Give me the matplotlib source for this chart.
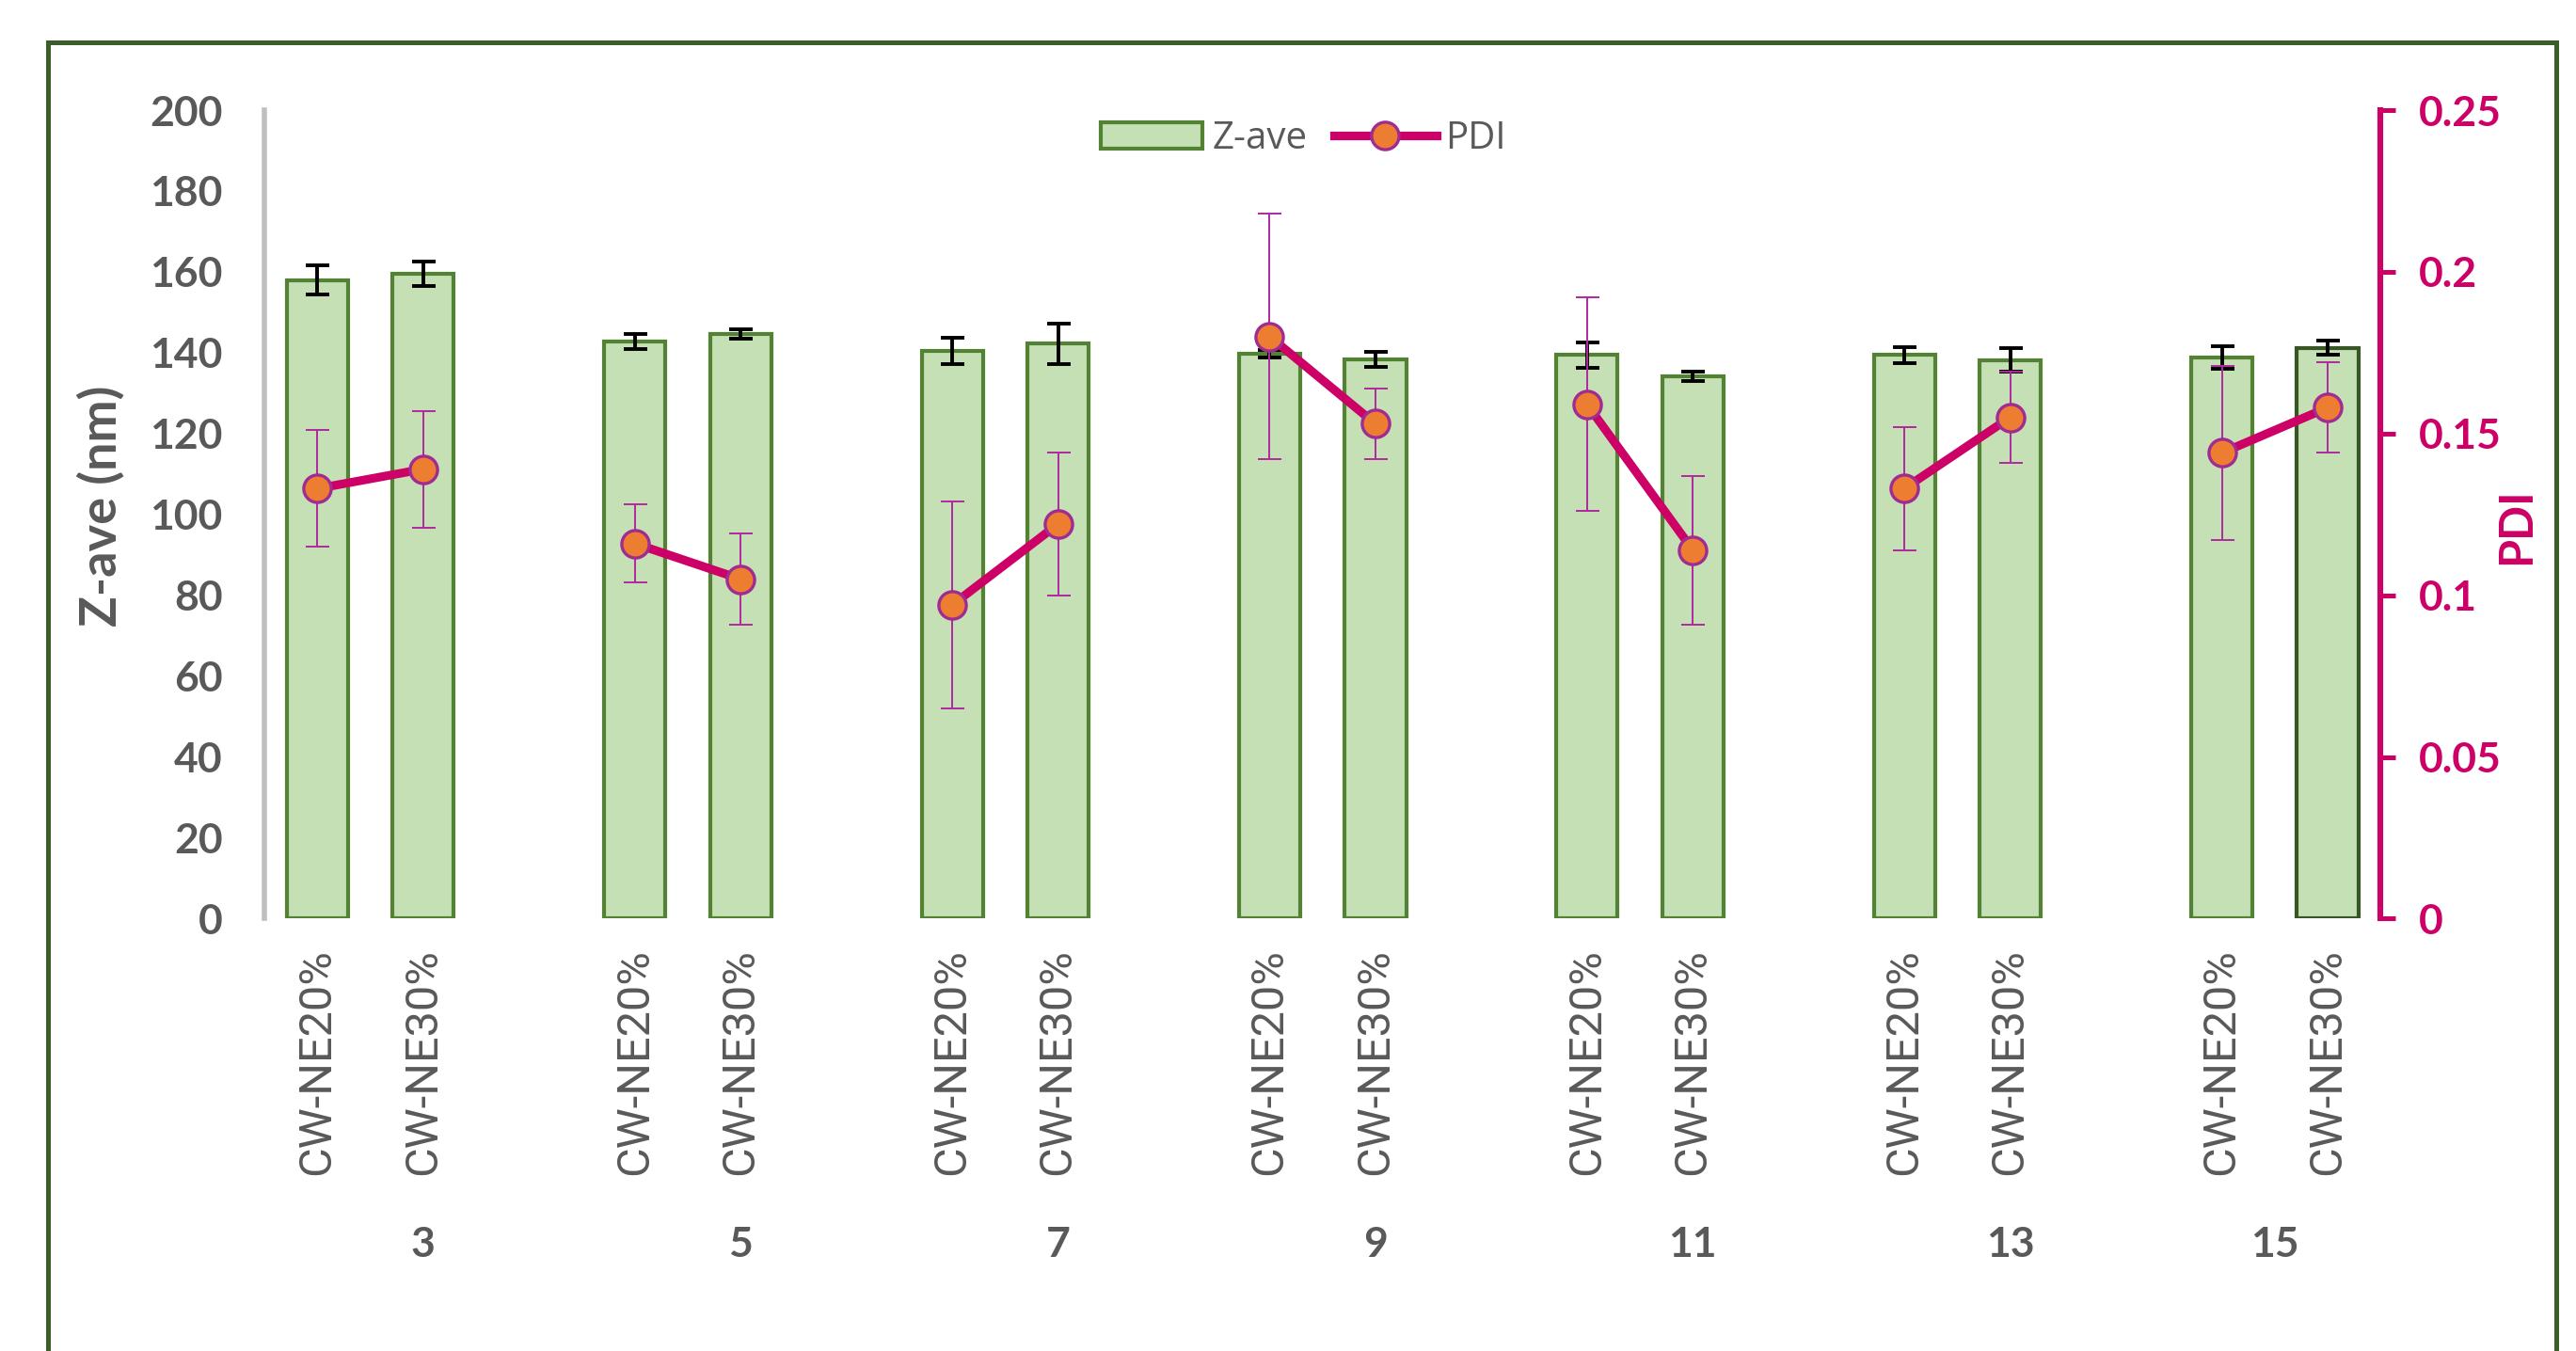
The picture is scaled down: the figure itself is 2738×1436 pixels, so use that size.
import numpy as np
import matplotlib
matplotlib.use("Agg")
import matplotlib.pyplot as plt
from matplotlib.patches import Rectangle, Patch
from matplotlib.lines import Line2D
from matplotlib.transforms import blended_transform_factory

plt.rcParams['font.family'] = ['Lato', 'DejaVu Sans']

# ---- data ----
groups = ['3', '5', '7', '9', '11', '13', '15']
samples = ['CW-NE20%', 'CW-NE30%']

zave_20 = [158.0, 142.8, 140.5, 139.7, 139.4, 139.4, 138.8]
zave_30 = [159.5, 144.6, 142.2, 138.4, 134.2, 138.2, 141.2]
zave_err_20 = [3.6, 1.9, 3.3, 1.0, 3.2, 1.9, 2.8]
zave_err_30 = [3.0, 1.2, 5.0, 1.9, 1.2, 3.0, 1.8]

pdi_20 = [0.133, 0.116, 0.097, 0.180, 0.159, 0.133, 0.144]
pdi_30 = [0.139, 0.105, 0.122, 0.153, 0.114, 0.155, 0.158]
pdi_err_20 = [0.018, 0.012, 0.032, 0.038, 0.033, 0.019, 0.027]
pdi_err_30 = [0.018, 0.014, 0.022, 0.011, 0.023, 0.014, 0.014]

# ---- styling ----
GRAY = '#595959'
MAGENTA = '#cc0066'
BAR_FILL = '#c5e0b4'
BAR_EDGE = '#548235'
MARK_FILL = '#ed7d31'
MARK_EDGE = '#a02b93'
PDI_ERR = '#b0289f'
FRAME = '#3b5e2b'

# category slots: two samples per group plus an empty spacer slot between groups
n_groups = len(groups)
slot = 3
n_slots = n_groups * slot - 1
x20 = np.arange(n_groups) * slot
x30 = x20 + 1
x_bars = np.ravel(np.column_stack([x20, x30]))
zave = np.ravel(np.column_stack([zave_20, zave_30]))
zave_err = np.ravel(np.column_stack([zave_err_20, zave_err_30]))
pdi = np.ravel(np.column_stack([pdi_20, pdi_30]))
pdi_err = np.ravel(np.column_stack([pdi_err_20, pdi_err_30]))
tick_labels = samples * n_groups

fig = plt.figure(figsize=(13.69, 7.18), dpi=200)
ax = fig.add_axes([0.1027, 0.3200, 0.8214, 0.5985])
ax2 = ax.twinx()

# Z-ave bars
edges = [BAR_EDGE] * (len(x_bars) - 1) + ['#375623']
ax.bar(x_bars, zave, width=0.58, color=BAR_FILL, edgecolor=edges,
       linewidth=1.5, zorder=2)
ax.errorbar(x_bars, zave, yerr=zave_err, fmt='none', ecolor='black',
            elinewidth=1.4, capsize=4.5, capthick=1.4, zorder=3)

# PDI line (broken between groups) with error bars
pdi_line = np.full(n_slots, np.nan)
pdi_line[x_bars] = pdi
ax2.errorbar(x_bars, pdi, yerr=pdi_err, fmt='none', ecolor=PDI_ERR,
             elinewidth=0.7, capsize=4.5, capthick=0.7, zorder=3)
ax2.plot(np.arange(n_slots), pdi_line, color=MAGENTA, lw=3.3, marker='o',
         ms=10.5, mfc=MARK_FILL, mec=MARK_EDGE, mew=1.2, zorder=4)

# axes limits and ticks
ax.set_xlim(-0.5, n_slots - 0.5)
ax.set_ylim(0, 200)
ax2.set_ylim(0, 0.25)

ax.set_xticks(x_bars)
ax.set_xticklabels(tick_labels, rotation=90, fontsize=17.5, color=GRAY,
                   family=['Roboto', 'DejaVu Sans'])
ax.tick_params(axis='x', length=0, pad=11.5)

ax.set_yticks(np.arange(0, 201, 20))
ax.tick_params(axis='y', length=0, pad=16, labelsize=16, labelcolor=GRAY)
for t in ax.get_yticklabels():
    t.set_fontweight('bold')

pdi_ticks = [0, 0.05, 0.1, 0.15, 0.2, 0.25]
ax2.set_yticks(pdi_ticks)
ax2.set_yticklabels(['0', '0.05', '0.1', '0.15', '0.2', '0.25'],
                    fontweight='bold')
ax2.tick_params(axis='y', direction='out', length=5.8, width=1.8,
                color=MAGENTA, labelcolor=MAGENTA, labelsize=16, pad=9)

for s in ['top', 'right', 'bottom']:
    ax.spines[s].set_visible(False)
ax.spines['left'].set_color('#bfbfbf')
ax.spines['left'].set_linewidth(2.0)
for s in ['top', 'left', 'bottom']:
    ax2.spines[s].set_visible(False)
ax2.spines['right'].set_color(MAGENTA)
ax2.spines['right'].set_linewidth(2.2)

ax.set_ylabel('Z-ave (nm)', fontsize=19.5, fontweight='bold', color=GRAY)
ax.yaxis.set_label_coords(-0.066, 0.51)
ax2.set_ylabel('PDI', fontsize=17.5, fontweight='bold', color=MAGENTA,
               rotation=90)
ax2.yaxis.set_label_coords(1.054, 0.485)

# group labels under the sample labels
trans = blended_transform_factory(ax.transData, fig.transFigure)
for g, name in enumerate(groups):
    start = g * slot
    end = min(start + slot - 1, n_slots - 1)
    ax.text((start + end) / 2, 0.079, name, transform=trans, ha='center',
            va='center', fontsize=16, fontweight='bold', color=GRAY)

# legend
handles = [Patch(facecolor=BAR_FILL, edgecolor=BAR_EDGE, linewidth=1.5),
           Line2D([], [], color=MAGENTA, lw=3.3, marker='o', ms=10.5,
                  mfc=MARK_FILL, mec=MARK_EDGE, mew=1.2)]
fig.legend(handles, ['Z-ave', 'PDI'], loc='center',
           bbox_to_anchor=(0.506, 0.897), ncol=2, frameon=False,
           prop={'family': ['Open Sans', 'DejaVu Sans'], 'size': 14.5},
           labelcolor=GRAY, handlelength=2.7, handleheight=0.7,
           handletextpad=0.25, columnspacing=0.7)

# outer chart border
fig.patches.append(Rectangle((0.0186, -0.05), 0.9739, 1.0187,
                             transform=fig.transFigure, fill=False,
                             edgecolor=FRAME, linewidth=1.8))

fig.savefig('out.png', dpi=200, facecolor='white')
